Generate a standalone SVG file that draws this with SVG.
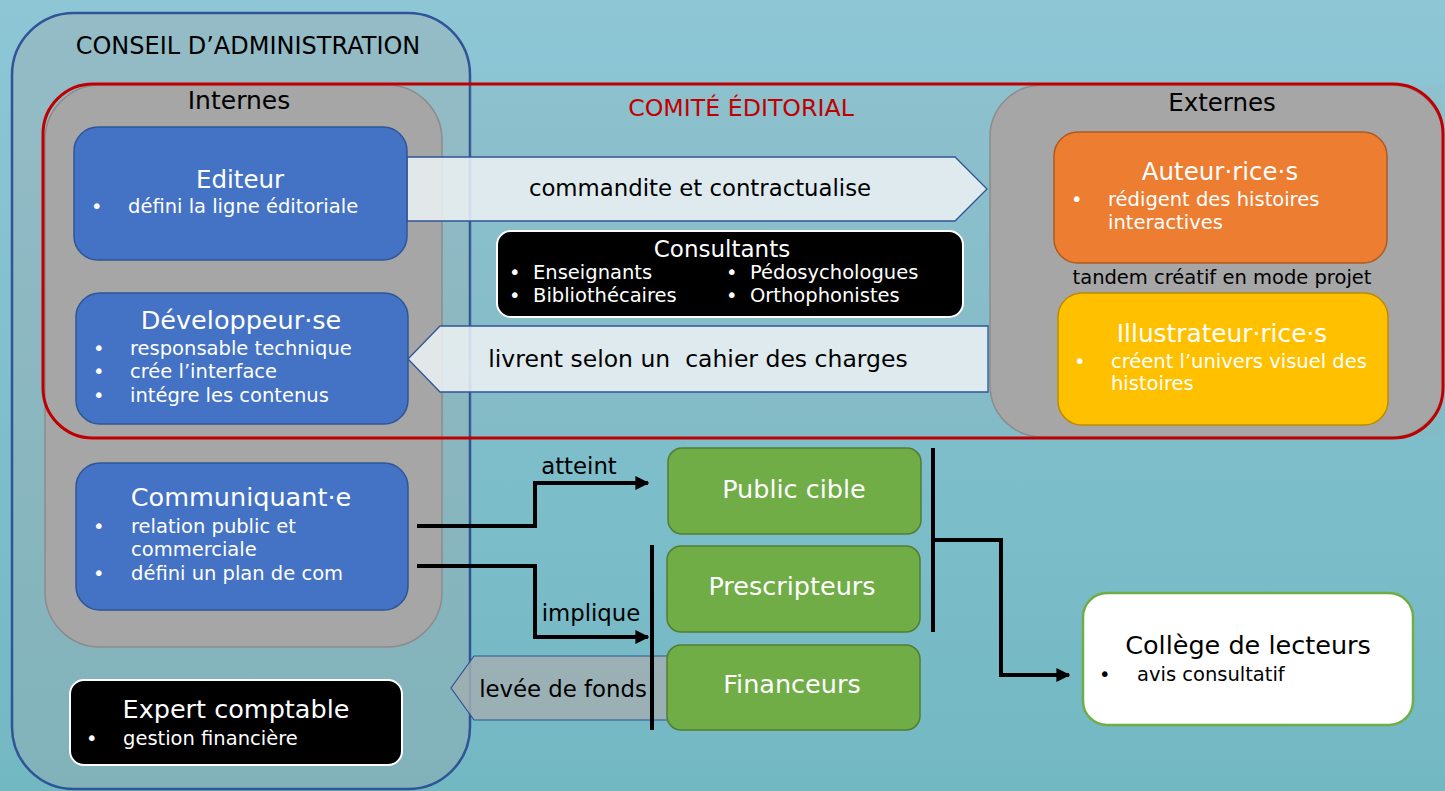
<svg xmlns="http://www.w3.org/2000/svg" width="1445" height="791" viewBox="0 0 1445 791">
<defs>
<linearGradient id="bg" x1="0" y1="0" x2="0" y2="1">
<stop offset="0" stop-color="#8ec6d6"/>
<stop offset="1" stop-color="#72b8c3"/>
</linearGradient>
<marker id="ah" viewBox="0 0 10 10" refX="9" refY="5" markerWidth="3.5" markerHeight="3.5" orient="auto" markerUnits="strokeWidth">
<path d="M0,0 L10,5 L0,10 Z" fill="#000"/>
</marker>
<style>
text{font-family:"DejaVu Sans","Noto Sans",sans-serif;}
.t{font-size:25.5px;text-anchor:middle;}
.b{font-size:19.5px;}
.lbl{font-size:22.8px;fill:#000;text-anchor:middle;}
.w{fill:#fff;}
.k{fill:#000;}
.blue{fill:#4472c4;stroke:#2f5597;stroke-width:1.5;}
.green{fill:#70ad47;stroke:#507e32;stroke-width:1.5;}
.blk{fill:#000;stroke:#fff;stroke-width:2;}
.grey{fill:#a6a6a6;stroke:#8c8c8c;stroke-width:1.5;}
.arrowbox{fill:#eaf0f2;fill-opacity:0.88;stroke:#2f5597;stroke-width:1.3;}
.con{fill:none;stroke:#000;stroke-width:4;}
</style>
</defs>
<rect width="1445" height="791" fill="url(#bg)"/>

<g id="conseil">
<rect x="12" y="13" width="458" height="776" rx="62" fill="#a6a6a6" fill-opacity="0.3" stroke="#2f5597" stroke-width="2.5"/>
<text x="248" y="54" class="k" style="font-size:24px;text-anchor:middle">CONSEIL D’ADMINISTRATION</text>
</g>

<g id="comite">
<rect x="470" y="85" width="973" height="352" fill="#a6a6a6" fill-opacity="0.12"/>
<g id="internes">
<rect x="45" y="85" width="397" height="562" rx="55" class="grey"/>
<text x="239" y="109" class="k" style="font-size:25px;text-anchor:middle">Internes</text>
</g>
<g id="externes">
<rect x="990" y="85" width="453" height="352" rx="52" class="grey"/>
<text x="1222" y="111" class="k" style="font-size:24.5px;text-anchor:middle">Externes</text>
</g>
<rect x="43" y="84" width="1400" height="354" rx="50" fill="none" stroke="#c00000" stroke-width="3"/>
<text x="741" y="116" style="font-size:23.7px;text-anchor:middle;fill:#c00000">COMITÉ ÉDITORIAL</text>
</g>

<g id="connectors">
<polygon points="407,157 955,157 987,189 955,221 407,221" class="arrowbox"/>
<text x="700" y="196" class="lbl">commandite et contractualise</text>
<polygon points="988,326 440,326 408,359 440,392 988,392" class="arrowbox"/>
<text x="698" y="367" class="lbl" xml:space="preserve" style="font-size:23.5px">livrent selon un  cahier des charges</text>
<polygon points="668,656 474,656 451,688 474,720 668,720" fill="#a2aeb2" fill-opacity="0.85" stroke="#2f5597" stroke-width="1.2"/>
<text x="563" y="697" class="lbl">levée de fonds</text>
<path d="M417,526 H535 V483 H648" class="con" marker-end="url(#ah)"/>
<text x="579" y="474" class="lbl">atteint</text>
<path d="M417,566 H535 V637 H648" class="con" marker-end="url(#ah)"/>
<text x="591" y="621" class="lbl">implique</text>
<line x1="652" y1="545" x2="652" y2="730" class="con"/>
<line x1="933" y1="448" x2="933" y2="632" class="con"/>
<path d="M933,540 H1001 V675 H1069" class="con" marker-end="url(#ah)"/>
</g>

<g id="editeur">
<rect x="74" y="127" width="333" height="133" rx="24" class="blue"/>
<text x="240" y="188" class="t w" style="font-size:24.5px">Editeur</text>
<text x="91" y="213" class="b w">•</text>
<text x="128" y="213" class="b w">défini la ligne éditoriale</text>
</g>

<g id="developpeur">
<rect x="76" y="293" width="332" height="131" rx="24" class="blue"/>
<text x="241" y="329" class="t w">Développeur·se</text>
<text x="93" y="355" class="b w">•</text>
<text x="130" y="355" class="b w">responsable technique</text>
<text x="93" y="378" class="b w">•</text>
<text x="130" y="378" class="b w">crée l’interface</text>
<text x="93" y="402" class="b w">•</text>
<text x="130" y="402" class="b w">intégre les contenus</text>
</g>

<g id="communiquant">
<rect x="76" y="463" width="332" height="147" rx="24" class="blue"/>
<text x="241" y="506" class="t w">Communiquant·e</text>
<text x="93" y="533" class="b w">•</text>
<text x="131" y="533" class="b w">relation public et</text>
<text x="131" y="556" class="b w">commerciale</text>
<text x="93" y="580" class="b w">•</text>
<text x="131" y="580" class="b w">défini un plan de com</text>
</g>

<g id="expert">
<rect x="70" y="680" width="332" height="85" rx="14" class="blk"/>
<text x="236" y="718" class="t w">Expert comptable</text>
<text x="86" y="745" class="b w">•</text>
<text x="123" y="745" class="b w">gestion financière</text>
</g>

<g id="consultants">
<rect x="497" y="231" width="466" height="86" rx="14" class="blk"/>
<text x="722" y="257" class="t w" style="font-size:23px">Consultants</text>
<text x="509" y="279" class="b w">•</text>
<text x="533" y="279" class="b w">Enseignants</text>
<text x="509" y="302" class="b w">•</text>
<text x="533" y="302" class="b w">Bibliothécaires</text>
<text x="726" y="279" class="b w">•</text>
<text x="750" y="279" class="b w">Pédosychologues</text>
<text x="726" y="302" class="b w">•</text>
<text x="750" y="302" class="b w">Orthophonistes</text>
</g>

<g id="auteur">
<rect x="1054" y="132" width="333" height="131" rx="24" fill="#ed7d31" stroke="#ae5a21" stroke-width="1.5"/>
<text x="1220" y="180" class="t w" style="font-size:24.5px">Auteur·rice·s</text>
<text x="1071" y="206" class="b w">•</text>
<text x="1108" y="206" class="b w">rédigent des histoires</text>
<text x="1108" y="229" class="b w">interactives</text>
</g>

<text x="1222" y="284" class="k" style="font-size:19.5px;text-anchor:middle">tandem créatif en mode projet</text>

<g id="illustrateur">
<rect x="1058" y="293" width="330" height="132" rx="24" fill="#ffc000" stroke="#bc8c00" stroke-width="1.5"/>
<text x="1222" y="342" class="t w" style="font-size:24.8px">Illustrateur·rice·s</text>
<text x="1074" y="368" class="b w">•</text>
<text x="1111" y="368" class="b w">créent l’univers visuel des</text>
<text x="1111" y="390" class="b w">histoires</text>
</g>

<g id="public">
<rect x="668" y="448" width="253" height="86" rx="14" class="green"/>
<text x="794" y="498" class="t w">Public cible</text>
</g>
<g id="prescripteurs">
<rect x="667" y="546" width="253" height="86" rx="14" class="green"/>
<text x="792" y="595" class="t w">Prescripteurs</text>
</g>
<g id="financeurs">
<rect x="667" y="645" width="253" height="85" rx="14" class="green"/>
<text x="792" y="693" class="t w">Financeurs</text>
</g>

<g id="college">
<rect x="1083" y="593" width="330" height="132" rx="24" fill="#fff" stroke="#70ad47" stroke-width="2.5"/>
<text x="1248" y="654" class="t k">Collège de lecteurs</text>
<text x="1099" y="681" class="b k">•</text>
<text x="1137" y="681" class="b k">avis consultatif</text>
</g>
</svg>
